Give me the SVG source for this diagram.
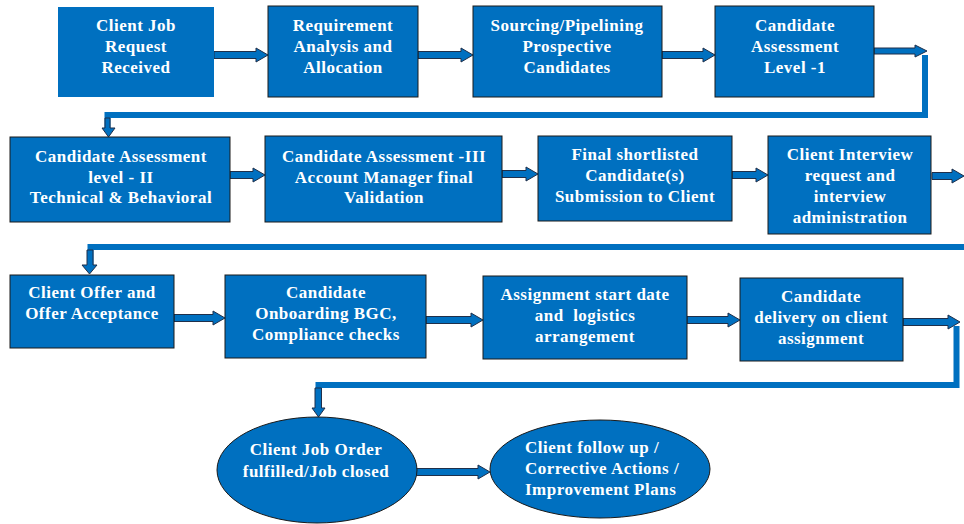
<svg xmlns="http://www.w3.org/2000/svg" width="964" height="524" viewBox="0 0 964 524">
<style>
.box{fill:#0070C0;stroke:#1a1a1a;stroke-width:1}
.nb{fill:#0070C0;stroke:none}
.t{font-family:"Liberation Serif","Times New Roman",serif;font-weight:bold;font-size:17px;letter-spacing:0.5px;fill:#ffffff;text-anchor:middle}
.tl{text-anchor:start}
.ba{fill:#0070C0;stroke:#1f2f4a;stroke-width:1}
.ln{fill:none;stroke:#0070C0;stroke-width:6}
</style>
<rect width="964" height="524" fill="#ffffff"/>
<g id="connectors">
<path class="ba" d="M214,51.5 H256 V48 L268,55 L256,62 V58.5 H214 Z"/>
<path class="ba" d="M418,51.5 H461 V48 L473,55 L461,62 V58.5 H418 Z"/>
<path class="ba" d="M662,51.5 H703 V48 L715,55 L703,62 V58.5 H662 Z"/>
<path class="ba" d="M874,48 H915 V45 L927,51 L915,57 V54 H874 Z"/>
<polyline class="ln" points="925,55 925,115 107.5,115 107.5,128"/>
<path class="ba" d="M105,118 H110 V128 H115 L108.5,137 L102,128 H105 Z"/>
<path class="ba" d="M230,171.5 H253 V168 L265,175 L253,182 V178.5 H230 Z"/>
<path class="ba" d="M502,170.5 H526 V167 L538,174 L526,181 V177.5 H502 Z"/>
<path class="ba" d="M732,171.5 H756 V168 L768,175 L756,182 V178.5 H732 Z"/>
<path class="ba" d="M932,172.5 H952 V169 L964,176 L952,183 V179.5 H932 Z"/>
<polyline class="ln" points="964,247 90.5,247 90.5,265"/>
<path class="ba" d="M87,250 H93 V265 H97 L89.5,274 L82,265 H87 Z"/>
<path class="ba" d="M174,314.5 H213 V311 L225,318 L213,325 V321.5 H174 Z"/>
<path class="ba" d="M426,316.5 H471 V313 L483,320 L471,327 V323.5 H426 Z"/>
<path class="ba" d="M687,316.5 H728 V313 L740,320 L728,327 V323.5 H687 Z"/>
<path class="ba" d="M903,318.5 H948 V315 L960,322 L948,329 V325.5 H903 Z"/>
<polyline class="ln" points="956.5,326 956.5,385 318.5,385 318.5,408"/>
<path class="ba" d="M315,388 H321.5 V408 H325 L318.5,417 L312,408 H315 Z"/>
<path class="ba" d="M416,468.5 H478 V465 L490,472 L478,479 V475.5 H416 Z"/>
</g>
<g id="n1"><rect class="nb" x="58" y="7" width="156" height="90"/>
<text class="t" x="136" y="31">Client Job</text><text class="t" x="136" y="52">Request</text><text class="t" x="136" y="73">Received</text></g>
<g id="n2"><rect class="box" x="268" y="6" width="150" height="91"/>
<text class="t" x="343" y="31">Requirement</text><text class="t" x="343" y="52">Analysis and</text><text class="t" x="343" y="73">Allocation</text></g>
<g id="n3"><rect class="box" x="473" y="6" width="189" height="91"/>
<text class="t" x="567" y="31">Sourcing/Pipelining</text><text class="t" x="567" y="52">Prospective</text><text class="t" x="567" y="73">Candidates</text></g>
<g id="n4"><rect class="box" x="715" y="6" width="159" height="91"/>
<text class="t" x="795" y="31">Candidate</text><text class="t" x="795" y="52">Assessment</text><text class="t" x="795" y="73">Level -1</text></g>
<g id="n5"><rect class="box" x="10" y="137" width="220" height="85"/>
<text class="t" x="121" y="162">Candidate Assessment</text><text class="t" x="121" y="183">level - II</text><text class="t" x="121" y="203">Technical &amp; Behavioral</text></g>
<g id="n6"><rect class="box" x="265" y="136" width="237" height="86"/>
<text class="t" x="384" y="162">Candidate Assessment -III</text><text class="t" x="384" y="183">Account Manager final</text><text class="t" x="384" y="203">Validation</text></g>
<g id="n7"><rect class="box" x="538" y="136" width="194" height="85"/>
<text class="t" x="635" y="160">Final shortlisted</text><text class="t" x="635" y="181">Candidate(s)</text><text class="t" x="635" y="202">Submission to Client</text></g>
<g id="n8"><rect class="box" x="768" y="136" width="163" height="98"/>
<text class="t" x="850" y="160">Client Interview</text><text class="t" x="850" y="181">request and</text><text class="t" x="850" y="202">interview</text><text class="t" x="850" y="223">administration</text></g>
<g id="n9"><rect class="box" x="10" y="275" width="164" height="73"/>
<text class="t" x="92" y="298">Client Offer and</text><text class="t" x="92" y="319">Offer Acceptance</text></g>
<g id="n10"><rect class="box" x="225" y="275" width="201" height="83"/>
<text class="t" x="326" y="298">Candidate</text><text class="t" x="326" y="319">Onboarding BGC,</text><text class="t" x="326" y="340">Compliance checks</text></g>
<g id="n11"><rect class="box" x="483" y="276" width="204" height="83"/>
<text class="t" x="585" y="300">Assignment start date</text><text class="t" x="585" y="321" xml:space="preserve">and  logistics</text><text class="t" x="585" y="342">arrangement</text></g>
<g id="n12"><rect class="box" x="740" y="278" width="163" height="83"/>
<text class="t" x="821" y="302">Candidate</text><text class="t" x="821" y="323">delivery on client</text><text class="t" x="821" y="344">assignment</text></g>
<g id="n13"><ellipse class="box" cx="317" cy="470" rx="100" ry="53"/>
<text class="t" x="316" y="455">Client Job Order</text><text class="t" x="316" y="477">fulfilled/Job closed</text></g>
<g id="n14"><ellipse class="box" cx="600" cy="469" rx="110" ry="49"/>
<text class="t tl" x="525" y="453">Client follow up /</text><text class="t tl" x="525" y="474">Corrective Actions /</text><text class="t tl" x="525" y="495">Improvement Plans</text></g>
</svg>
